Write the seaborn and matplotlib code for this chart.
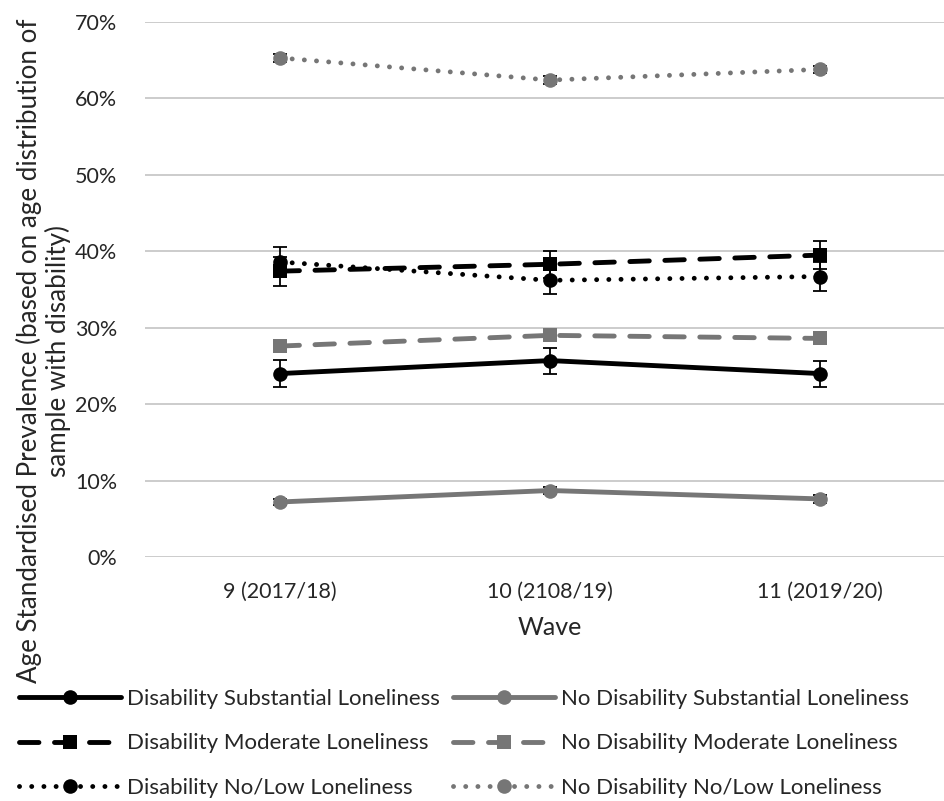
import numpy as np
import pandas as pd
import matplotlib
matplotlib.use('Agg')
import matplotlib.pyplot as plt
import seaborn as sns
from matplotlib.ticker import PercentFormatter

waves = ['9 (2017/18)', '10 (2108/19)', '11 (2019/20)']

# prevalence (%) and 95% CI half-widths
dis_sub = [24.0, 25.7, 24.0]
dis_sub_err = [1.8, 1.7, 1.7]
dis_mod = [37.4, 38.3, 39.5]
dis_mod_err = [1.9, 1.8, 1.8]
dis_low = [38.6, 36.2, 36.7]
dis_low_err = [1.9, 1.8, 1.9]
nodis_sub = [7.2, 8.7, 7.6]
nodis_sub_err = [0.4, 0.5, 0.5]
nodis_mod = [27.6, 29.0, 28.6]
nodis_mod_err = [0.5, 0.5, 0.5]
nodis_low = [65.3, 62.4, 63.8]
nodis_low_err = [0.5, 0.5, 0.5]

labels = ['Disability Substantial Loneliness', 'Disability Moderate Loneliness',
          'Disability No/Low Loneliness', 'No Disability Substantial Loneliness',
          'No Disability Moderate Loneliness', 'No Disability No/Low Loneliness']

sns.set_theme(style='white')
plt.rcParams['font.family'] = ['Lato', 'DejaVu Sans']

black = '#000000'
grey = '#767676'
series = [
    (dis_sub, dis_sub_err, black, 'o', 'solid'),
    (dis_mod, dis_mod_err, black, 's', (0, (4, 3.2))),
    (dis_low, dis_low_err, black, 'o', (0, (0.01, 2.5))),
    (nodis_sub, nodis_sub_err, grey, 'o', 'solid'),
    (nodis_mod, nodis_mod_err, grey, 's', (0, (4, 3.2))),
    (nodis_low, nodis_low_err, grey, 'o', (0, (0.01, 2.5))),
]

fig = plt.figure(figsize=(9.44, 8.01), dpi=100)
ax = fig.add_axes([145 / 944, 1 - 557 / 801, 810 / 944, 535 / 801])

x = np.arange(len(waves))
handles = []
for (vals, err, col, mk, ls), lab in zip(series, labels):
    ax.errorbar(x, vals, yerr=err, fmt='none', ecolor='black', elinewidth=1.3,
                capsize=5, capthick=1.3, zorder=2)
    df = pd.DataFrame({'wave': waves, 'value': vals})
    sns.lineplot(data=df, x='wave', y='value', ax=ax, color=col, marker=mk,
                 markersize=10.5, markeredgewidth=0, linewidth=3.5, label=lab,
                 sort=False, zorder=3)
    line = ax.get_lines()[-1]
    line.set_linestyle(ls)
    line.set_dash_capstyle('round')
    handles.append(line)

ax.set_xlim(-0.5, 2.5)
ax.set_ylim(0, 70)
ax.set_yticks(range(0, 71, 10))
ax.yaxis.set_major_formatter(PercentFormatter(decimals=0))
ax.grid(axis='y', color='#c8c8c8', linewidth=1.3)
for s in ax.spines.values():
    s.set_visible(False)
ax.tick_params(axis='both', labelsize=15.5, colors='#262626', length=0)
ax.tick_params(axis='x', pad=18)
ax.tick_params(axis='y', pad=20)
ax.set_xlabel('Wave', fontsize=18, color='#262626', labelpad=10)
ax.set_ylabel('')
fig.text(0.046, 0.562, 'Age Standardised Prevalence (based on age distribution of\nsample with disability)',
         rotation=90, ha='center', va='center', fontsize=18.7, color='#262626',
         multialignment='center', linespacing=1.1)

ax.get_legend().remove()
fig.legend(handles=handles, labels=labels, loc='upper left', ncol=2,
           bbox_to_anchor=(0.02, 0.14), frameon=False, fontsize=16,
           handlelength=4.6, columnspacing=0.6, labelspacing=1.1,
           handletextpad=0.25, borderaxespad=0, borderpad=0)

fig.savefig('out.png', dpi=100)
